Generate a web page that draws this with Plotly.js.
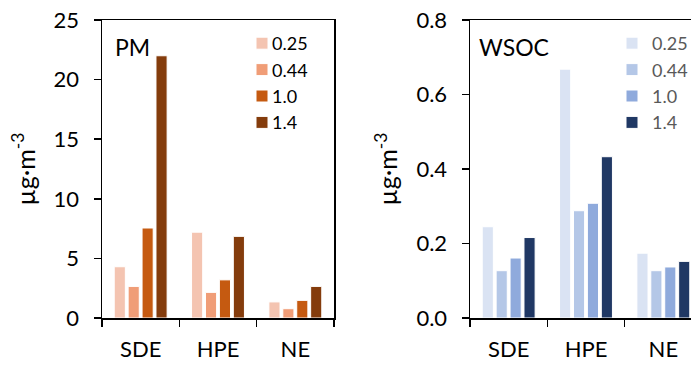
<!DOCTYPE html>
<html><head><meta charset="utf-8">
<script src="https://cdn.plot.ly/plotly-3.0.1.min.js"></script>
<style>html,body{margin:0;padding:0;overflow:hidden;background:#fff}#chart{width:720px;height:365px}</style>
</head><body><div id="chart"></div>
<script>
const categories = ['SDE', 'HPE', 'NE'];
const sizes = ['0.25', '0.44', '1.0', '1.4'];
const pm_025 = [4.3, 7.2, 1.35];
const pm_044 = [2.65, 2.15, 0.78];
const pm_100 = [7.55, 3.2, 1.48];
const pm_140 = [22.0, 6.85, 2.65];
const wsoc_025 = [0.245, 0.668, 0.174];
const wsoc_044 = [0.127, 0.288, 0.127];
const wsoc_100 = [0.161, 0.308, 0.137];
const wsoc_140 = [0.216, 0.433, 0.152];
const pmTicks = [0, 5, 10, 15, 20, 25];
const wsocTicks = [0, 0.2, 0.4, 0.6, 0.8];
const wsocTickText = ['0.0', '0.2', '0.4', '0.6', '0.8'];
const pmColors = ['#F4C4B1', '#F09D77', '#C55A11', '#843C0C'];
const wsocColors = ['#DAE3F3', '#B4C7E7', '#8FAADC', '#203864'];

const W = 720, H = 365, MT = 20, MB = 47;
const PH = H - MT - MB;
const py = v => 1 - (v - MT) / PH;
const FONT = 'Lato, "Open Sans", sans-serif';
const pmSeries = [pm_025, pm_044, pm_100, pm_140];
const wsocSeries = [wsoc_025, wsoc_044, wsoc_100, wsoc_140];

const traces = [];
pmSeries.forEach((ys, i) => traces.push({
  type: 'bar', x: categories, y: ys, name: sizes[i], xaxis: 'x', yaxis: 'y', legend: 'legend',
  marker: {color: pmColors[i], line: {color: '#ffffff', width: 1}}
}));
wsocSeries.forEach((ys, i) => traces.push({
  type: 'bar', x: categories, y: ys, name: sizes[i], xaxis: 'x2', yaxis: 'y2', legend: 'legend2',
  marker: {color: wsocColors[i], line: {color: '#ffffff', width: 1}}
}));

const xCommon = {
  type: 'category', showline: true, linecolor: '#000', linewidth: 1.5, mirror: true,
  ticks: 'outside', tickson: 'boundaries', ticklen: 7, tickwidth: 1.5, tickcolor: '#000',
  showgrid: false, zeroline: false, ticklabelstandoff: 11,
  tickfont: {family: FONT, size: 22, color: '#000'}, fixedrange: true
};
const yCommon = {
  showline: true, linecolor: '#000', linewidth: 1.5, mirror: true,
  ticks: 'outside', ticklen: 7, tickwidth: 1.5, tickcolor: '#000',
  showgrid: false, zeroline: false, ticklabelstandoff: 10,
  tickfont: {family: FONT, size: 22, color: '#000'}, fixedrange: true
};
const yTitle = {text: 'µg·m<sup>-3</sup>', font: {family: FONT, size: 25, color: '#000'}, standoff: 11};

const layout = {
  width: W, height: H,
  margin: {l: 0, r: 0, t: MT, b: MB},
  paper_bgcolor: '#fff', plot_bgcolor: '#fff',
  barmode: 'group', bargap: 0.28, bargroupgap: 0.2,
  font: {family: FONT, color: '#000'},
  xaxis: Object.assign({}, xCommon, {domain: [102 / W, 334 / W], anchor: 'y'}),
  yaxis: Object.assign({}, yCommon, {anchor: 'x', range: [0, 25], tickvals: pmTicks, title: yTitle}),
  xaxis2: Object.assign({}, xCommon, {domain: [470 / W, 702 / W], anchor: 'y2'}),
  yaxis2: Object.assign({}, yCommon, {anchor: 'x2', range: [0, 0.8], tickvals: wsocTicks, ticktext: wsocTickText, title: yTitle}),
  legend: {x: 242 / W, y: py(25), xanchor: 'left', yanchor: 'top', bgcolor: 'rgba(0,0,0,0)',
    font: {family: FONT, size: 18, color: '#000'}, tracegroupgap: 0},
  legend2: {x: 612 / W, y: py(25), xanchor: 'left', yanchor: 'top', bgcolor: 'rgba(0,0,0,0)',
    font: {family: FONT, size: 18, color: '#595959'}, tracegroupgap: 0},
  annotations: [
    {text: 'PM', xref: 'paper', yref: 'paper', x: 113 / W, y: py(47), xanchor: 'left', yanchor: 'middle',
      showarrow: false, font: {family: FONT, size: 23, color: '#000'}},
    {text: 'WSOC', xref: 'paper', yref: 'paper', x: 477 / W, y: py(47), xanchor: 'left', yanchor: 'middle',
      showarrow: false, font: {family: FONT, size: 23, color: '#000'}}
  ]
};

Plotly.newPlot('chart', traces, layout, {displayModeBar: false, staticPlot: true}).then(gd => {
  // tighten the gap between legend swatch and label, as in the reference
  gd.querySelectorAll('.legendtext').forEach(t => {
    const x = parseFloat(t.getAttribute('x')) || 40;
    t.setAttribute('x', x - 10);
    t.querySelectorAll('tspan[x]').forEach(s => s.setAttribute('x', parseFloat(s.getAttribute('x')) - 10));
  });
});
</script>
</body></html>
